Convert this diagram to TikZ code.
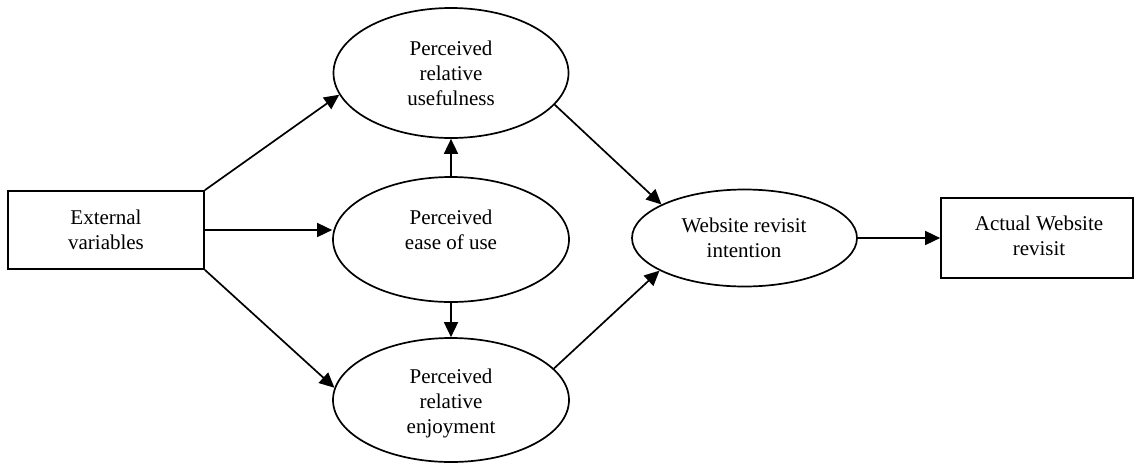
\documentclass[tikz,border=0pt]{standalone}
\usepackage{fontspec}
\setmainfont{Liberation Serif}
\usetikzlibrary{shapes.geometric,arrows.meta}
\begin{document}
\begin{tikzpicture}[x=1pt,y=-1pt,
  every node/.style={font=\fontsize{21}{25}\selectfont, align=center, inner sep=0pt},
  boxnode/.style={draw, line width=1.7pt, rectangle},
  ovalnode/.style={draw, line width=1.7pt, ellipse},
  conn/.style={line width=1.7pt, -{Triangle[length=15pt,width=14pt]}}]
  \useasboundingbox (0,0) rectangle (1135,464);

  % boxes
  \node[boxnode, minimum width=196pt, minimum height=78pt] (ext) at (106,230) {External\\variables};
  \node[boxnode, minimum width=192pt, minimum height=80pt] (act) at (1037,238) {};
  \node (acttext) at (1039,236) {Actual Website\\revisit};

  % ellipses
  \node[ovalnode, minimum width=235pt, minimum height=130pt] (pu) at (451,73) {};
  \node (putext) at (451,73) {Perceived\\relative\\usefulness};
  \node[ovalnode, minimum width=236pt, minimum height=125pt] (peou) at (451,239.5) {};
  \node (peoutext) at (451,230) {Perceived\\ease of use};
  \node[ovalnode, minimum width=236pt, minimum height=124pt] (pe) at (451,400) {};
  \node (petext) at (451,403) {Perceived\\relative\\enjoyment};
  \node[ovalnode, minimum width=225pt, minimum height=97pt] (wri) at (744.5,238) {};
  \node (writext) at (744,238) {Website revisit\\intention};

  % connectors
  \draw[conn] (ext.north east) -- (pu.191);
  \draw[conn] (ext.east) -- (peou.west |- ext.east);
  \draw[conn] (ext.south east) -- (pe.174);
  \draw[conn] (peou.north) -- (pu.south);
  \draw[conn] (peou.south) -- (pe.north);
  \draw[conn] (pu.-17.6) -- (wri.158);
  \draw[conn] (pe.17.6) -- (wri.201);
  \draw[conn] (wri.east) -- (act.west);
\end{tikzpicture}
\end{document}
